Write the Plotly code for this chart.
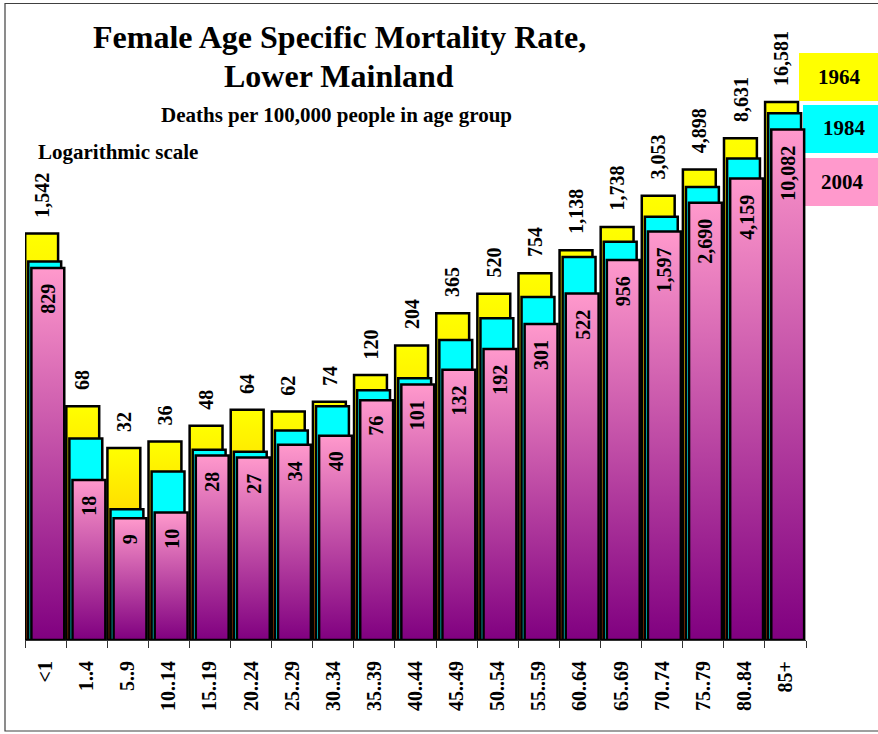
import numpy as np
import plotly.graph_objects as go

# ---------------- data ----------------
age_groups = ["<1", "1..4", "5..9", "10..14", "15..19", "20..24", "25..29", "30..34",
              "35..39", "40..44", "45..49", "50..54", "55..59", "60..64", "65..69",
              "70..74", "75..79", "80..84", "85+"]
rate_1964 = [1542, 68, 32, 36, 48, 64, 62, 74, 120, 204, 365, 520, 754, 1138, 1738,
             3053, 4898, 8631, 16581]
rate_1984 = [930, 38, 10.6, 21, 31, 30, 44, 68, 91, 113, 225, 334, 490, 1010, 1330,
             2090, 3570, 5970, 13520]
rate_2004 = [829, 18, 9, 10, 28, 27, 34, 40, 76, 101, 132, 192, 301, 522, 956, 1597,
             2690, 4159, 10082]
years = ["1964", "1984", "2004"]

# ---------------- style ----------------
W, H = 878, 734
PL, PR, PT, PB = 25, 806, 10, 640      # plot box in pixels
PX_PER_DECADE = 127.5
FONT = "Liberation Serif, Times New Roman, serif"
BAR_W = 0.8
series = [
    dict(vals=rate_1964, off=-0.495,
         grad=[[0, "#993300"], [0.5, "#FFCC00"], [1, "#FFFF00"]], legend="#FFFF00"),
    dict(vals=rate_1984, off=-0.42,
         grad=[[0, "#00FFFF"], [1, "#00FFFF"]], legend="#00FFFF"),
    dict(vals=rate_2004, off=-0.345,
         grad=[[0, "#800080"], [1, "#FF99CC"]], legend="#FF99CC"),
]
BASE = 1.0  # bottom of log axis

fig = go.Figure()
for s in series:
    for i, v in enumerate(s["vals"]):
        x0 = i + s["off"]
        x1 = x0 + BAR_W
        fig.add_trace(go.Scatter(
            x=[x0, x1, x1, x0, x0], y=[BASE, BASE, v, v, BASE],
            mode="lines", fill="toself",
            fillgradient=dict(type="vertical", colorscale=s["grad"]),
            line=dict(color="black", width=2.5),
            hoverinfo="skip", showlegend=False))

def px(x):
    return x / W

def py(y):
    return 1 - y / H

annotations = []
# 1964 labels above yellow bars
for i, v in enumerate(rate_1964):
    annotations.append(dict(
        x=i + series[0]["off"] + BAR_W / 2, y=np.log10(v), xref="x", yref="y",
        text=f"<b>{v:,}</b>", textangle=-90, showarrow=False,
        xanchor="center", yanchor="bottom", yshift=14,
        font=dict(family=FONT, size=20, color="black")))
# 2004 labels inside pink bars
for i, v in enumerate(rate_2004):
    annotations.append(dict(
        x=i + series[2]["off"] + BAR_W / 2, y=np.log10(v), xref="x", yref="y",
        text=f"<b>{v:,}</b>", textangle=-90, showarrow=False,
        xanchor="center", yanchor="top", yshift=-14,
        font=dict(family=FONT, size=20, color="black")))

# titles
annotations += [
    dict(x=px(339), y=py(37), xref="paper", yref="paper", showarrow=False,
         text="<b>Female Age Specific Mortality Rate,</b>", xanchor="center", yanchor="middle",
         font=dict(family=FONT, size=32, color="black")),
    dict(x=px(339), y=py(76), xref="paper", yref="paper", showarrow=False,
         text="<b>Lower Mainland</b>", xanchor="center", yanchor="middle",
         font=dict(family=FONT, size=32, color="black")),
    dict(x=px(336), y=py(115.5), xref="paper", yref="paper", showarrow=False,
         text="<b>Deaths per 100,000 people in age group</b>", xanchor="center", yanchor="middle",
         font=dict(family=FONT, size=21, color="black")),
    dict(x=px(36), y=py(152), xref="paper", yref="paper", showarrow=False,
         text="<b>Logarithmic scale</b>", xanchor="left", yanchor="middle",
         font=dict(family=FONT, size=21, color="black")),
]

# legend boxes
shapes = []
legend_boxes = [(799, 53, 101, 839, 77.5), (803, 105, 153, 844, 128), (802, 158, 206, 842, 182)]
for (bx, by0, by1, tx, ty), s, yr in zip(legend_boxes, series, years):
    shapes.append(dict(type="rect", xref="paper", yref="paper",
                       x0=px(bx), x1=px(W + 5), y0=py(by1), y1=py(by0),
                       fillcolor=s["legend"], line=dict(width=0), layer="below"))
    annotations.append(dict(x=px(tx), y=py(ty), xref="paper", yref="paper", showarrow=False,
                            text=f"<b>{yr}</b>", xanchor="center", yanchor="middle",
                            font=dict(family=FONT, size=21, color="black")))

# outer frame
shapes.append(dict(type="rect", xref="paper", yref="paper",
                   x0=px(5), x1=px(W + 10), y0=py(731), y1=py(3.5),
                   line=dict(color="#404040", width=1.2), fillcolor="rgba(0,0,0,0)", layer="below"))

y_top = (PB - PT) / PX_PER_DECADE

fig.update_layout(
    width=W, height=H,
    margin=dict(l=0, r=0, t=0, b=0),
    paper_bgcolor="white", plot_bgcolor="white",
    showlegend=False,
    annotations=annotations, shapes=shapes,
    xaxis=dict(domain=[px(PL), px(PR)], range=[-0.5, len(age_groups) - 0.5],
               tickmode="array", tickvals=list(range(len(age_groups))), ticktext=age_groups,
               tickangle=-90, ticks="", showgrid=False, zeroline=False,
               showline=True, linecolor="#333333", linewidth=1,
               tickfont=dict(family=FONT, size=20, color="black", weight="bold"),
               ticklabelstandoff=12,
               minor=dict(tickmode="linear", tick0=-0.5, dtick=1, ticks="outside",
                          ticklen=7, tickcolor="#333333", tickwidth=1, showgrid=False),
               automargin=False, fixedrange=True),
    yaxis=dict(domain=[1 - PB / H, 1 - PT / H], type="log", range=[0, y_top],
               visible=False, showgrid=False, automargin=False, fixedrange=True),
)

fig.write_html("out.html", config={"displayModeBar": False},
               post_script="document.body.style.margin='0';document.body.style.overflow='hidden';")
